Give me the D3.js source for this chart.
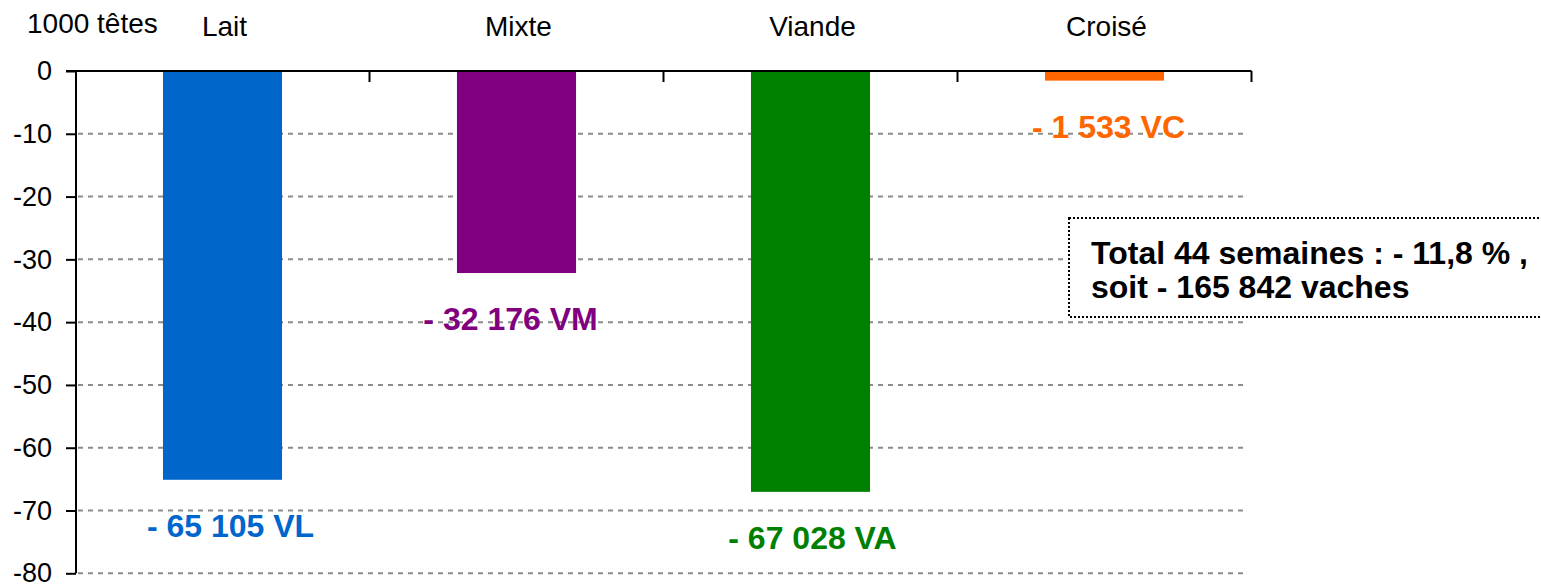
<!DOCTYPE html>
<html>
<head>
<meta charset="utf-8">
<script src="https://cdn.jsdelivr.net/npm/d3@7"></script>
<style>
  html, body { margin: 0; padding: 0; background: #fff; }
  svg { display: block; font-family: Arial, "Liberation Sans", sans-serif; }
</style>
</head>
<body>
<svg id="chart" width="1541" height="585"></svg>
<script>
// ---- data ----
const categories = ["Lait", "Mixte", "Viande", "Croisé"];
const values = [-65.105, -32.176, -67.028, -1.533];        // 1000 têtes
const valueLabels = ["- 65 105 VL", "- 32 176 VM", "- 67 028 VA", "- 1 533 VC"];
const barColors = ["#0066CC", "#800080", "#008000", "#FF6600"];
const yTicks = [0, -10, -20, -30, -40, -50, -60, -70, -80];
const yAxisTitle = "1000 têtes";
const noteLines = ["Total 44 semaines : - 11,8 % ,", "soit - 165 842 vaches"];

// ---- layout ----
const svg = d3.select("#chart");
const mLeft = 76, mRight = 1251.5, mTop = 71, mBottom = 573.3;
const labelNudge = [8, -6, 2, 4];

const x = d3.scaleBand().domain(categories).range([mLeft - 0.5, mRight]).padding(0);
const y = d3.scaleLinear().domain([0, -80]).range([mTop, mBottom]);
const barW = x.bandwidth() * 0.405;

// gridlines
svg.append("g").selectAll("line")
  .data(yTicks.filter(d => d !== 0))
  .join("line")
  .attr("x1", mLeft + 2).attr("x2", 1245)
  .attr("y1", d => y(d)).attr("y2", d => y(d))
  .attr("stroke", "#8c8c8c").attr("stroke-width", 2)
  .attr("stroke-dasharray", "5,5");

// bars
svg.append("g").selectAll("rect")
  .data(categories)
  .join("rect")
  .attr("x", d => x(d) + (x.bandwidth() - barW) / 2)
  .attr("width", barW)
  .attr("y", y(0))
  .attr("height", (d, i) => y(values[i]) - y(0))
  .attr("fill", (d, i) => barColors[i]);

// y axis
const yAxis = d3.axisLeft(y).tickValues(yTicks).tickSize(10).tickPadding(14)
  .tickFormat(d => d === 0 ? "0" : "-" + Math.abs(d));
const gy = svg.append("g").attr("transform", `translate(${mLeft},0)`).call(yAxis);
gy.select(".domain").attr("stroke", "#000").attr("stroke-width", 2).attr("d", `M0,${mTop}V${mBottom}`);
gy.selectAll(".tick line").attr("stroke", "#000").attr("stroke-width", 2);
gy.selectAll(".tick text").attr("font-size", 27).attr("fill", "#000")
  .attr("font-family", "Arial, 'Liberation Sans', sans-serif");

// top category axis (zero line)
const xAxis = d3.axisTop(x).tickSize(0).tickPadding(0).tickFormat(() => "");
const gx = svg.append("g").attr("transform", `translate(0,${y(0)})`).call(xAxis);
gx.select(".domain").attr("stroke", "#000").attr("stroke-width", 2)
  .attr("d", `M${mLeft - 10},0H${mRight}`);
// boundary tick marks pointing down
svg.append("g").selectAll("line")
  .data(categories)
  .join("line")
  .attr("x1", d => x(d) + x.bandwidth()).attr("x2", d => x(d) + x.bandwidth())
  .attr("y1", y(0)).attr("y2", y(0) + 11)
  .attr("stroke", "#000").attr("stroke-width", 2);

// category names at top
svg.append("g").selectAll("text")
  .data(categories)
  .join("text")
  .attr("x", d => x(d) + x.bandwidth() / 2 + 2)
  .attr("y", 36)
  .attr("text-anchor", "middle")
  .attr("font-size", 28)
  .attr("fill", "#000")
  .text(d => d);

// y axis title
svg.append("text")
  .attr("x", 27).attr("y", 33)
  .attr("font-size", 28).attr("fill", "#000")
  .text(yAxisTitle);

// value labels
svg.append("g").selectAll("text")
  .data(categories)
  .join("text")
  .attr("x", (d, i) => x(d) + x.bandwidth() / 2 + labelNudge[i])
  .attr("y", (d, i) => y(values[i]) + 57)
  .attr("text-anchor", "middle")
  .attr("font-size", 32)
  .attr("font-weight", "bold")
  .attr("fill", (d, i) => barColors[i])
  .text((d, i) => valueLabels[i]);

// note box
svg.append("rect")
  .attr("x", 1069).attr("y", 218)
  .attr("width", 500).attr("height", 99)
  .attr("fill", "#fff")
  .attr("stroke", "#000").attr("stroke-width", 2)
  .attr("stroke-dasharray", "2,2");
svg.append("g").selectAll("text")
  .data(noteLines)
  .join("text")
  .attr("x", 1091)
  .attr("y", (d, i) => 264 + i * 34)
  .attr("font-size", 32)
  .attr("font-weight", "bold")
  .attr("fill", "#000")
  .text(d => d);
</script>
</body>
</html>
